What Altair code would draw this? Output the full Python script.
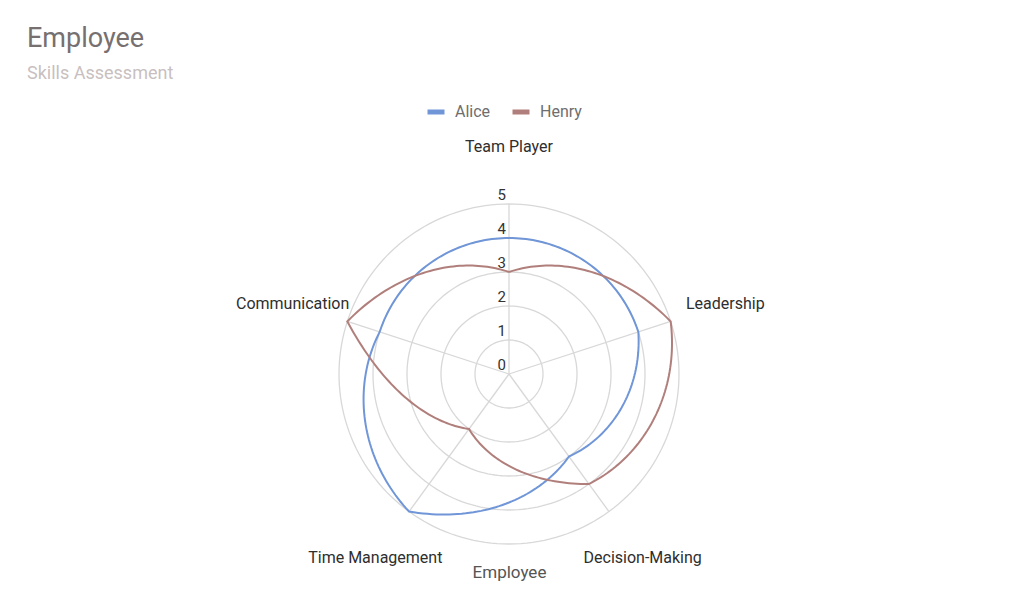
import altair as alt
import pandas as pd

# ---- data ----
skills = ["Team Player", "Leadership", "Decision-Making", "Time Management", "Communication"]
series_names = ["Alice", "Henry"]
alice = [4, 4, 3, 5, 4]
henry = [3, 5, 4, 2, 5]
levels = [0, 1, 2, 3, 4, 5]
colors = ["#7096d8", "#b07f7b"]

rows = []
for name, vals in zip(series_names, [alice, henry]):
    for i, (s, v) in enumerate(zip(skills, vals)):
        rows.append({"series": name, "skill": s, "idx": i, "value": v})
df = pd.DataFrame(rows)
skill_df = pd.DataFrame({"skill": skills, "idx": list(range(len(skills)))})
level_df = pd.DataFrame({"level": levels})

N = len(skills)
MAX = max(levels)
LABEL_R = 6.69
FONT = "Roboto"
P = -0.75  # power-mean exponent for the radial path between skills

xs = alt.Scale(domain=[-14, 14], nice=False, zero=False)
ys = alt.Scale(domain=[-5.5, 7.5], nice=False, zero=False)
x_axis = alt.Axis(title="Employee", labels=False, ticks=False, domain=False, grid=False,
                  titleFont=FONT, titleFontSize=17, titleFontWeight="normal",
                  titleColor="#555555", titlePadding=3)


def X(field="px"):
    return alt.X(f"{field}:Q", scale=xs, axis=x_axis)


def Y(field="py"):
    return alt.Y(f"{field}:Q", scale=ys, axis=None)


grid = (
    alt.Chart(level_df)
    .transform_filter("datum.level > 0")
    .transform_calculate(ts="sequence(0, 361, 2)")
    .transform_flatten(["ts"], as_=["deg"])
    .transform_calculate(px="datum.level*sin(datum.deg*PI/180)")
    .transform_calculate(py="datum.level*cos(datum.deg*PI/180)")
    .mark_line(color="#d8d8d8", strokeWidth=1.3)
    .encode(x=X(), y=Y(), detail="level:N", order="deg:Q")
)

spokes = (
    alt.Chart(skill_df)
    .transform_calculate(th=f"datum.idx*2*PI/{N}")
    .transform_calculate(px="0", py="0")
    .transform_calculate(px2=f"{MAX}*sin(datum.th)", py2=f"{MAX}*cos(datum.th)")
    .mark_rule(color="#d8d8d8", strokeWidth=1.3)
    .encode(x=X(), y=Y(), x2="px2:Q", y2="py2:Q")
)

tick_labels = (
    alt.Chart(level_df)
    .transform_calculate(px="0")
    .mark_text(align="right", baseline="middle", dx=-3, dy=-9, font=FONT, fontSize=15, color="#333333")
    .encode(x=X(), y=Y("level"), text="level:Q")
)

axis_labels = (
    alt.Chart(skill_df)
    .transform_calculate(th=f"datum.idx*2*PI/{N}")
    .transform_calculate(px=f"{LABEL_R}*sin(datum.th)", py=f"{LABEL_R}*cos(datum.th)")
    .mark_text(align="center", baseline="middle", font=FONT, fontSize=16, color="#2e2e2e")
    .encode(x=X(), y=Y(), text="skill:N")
)

lines = (
    alt.Chart(df)
    .transform_window(first="first_value(value)", nxt="lead(value)",
                      groupby=["series"], sort=[alt.SortField("idx")], frame=[None, None])
    .transform_calculate(nv="isValid(datum.nxt) ? datum.nxt : datum.first")
    .transform_calculate(ts="sequence(0, 1.0001, 0.02)")
    .transform_flatten(["ts"], as_=["t"])
    .transform_calculate(th=f"(datum.idx + datum.t)*2*PI/{N}")
    .transform_calculate(
        r=f"pow((1 - datum.t)*pow(max(datum.value, 0.01), {P}) + datum.t*pow(max(datum.nv, 0.01), {P}), {1 / P})")
    .transform_calculate(px="datum.r*sin(datum.th)", py="datum.r*cos(datum.th)",
                         ord="datum.idx + datum.t")
    .mark_line(strokeWidth=2)
    .encode(
        x=X(), y=Y(),
        color=alt.Color("series:N", scale=alt.Scale(domain=series_names, range=colors),
                        legend=alt.Legend(title=None, orient="none", direction="horizontal",
                                          legendX=392, legendY=-18, symbolType="stroke",
                                          symbolSize=289, symbolStrokeWidth=5,
                                          labelFont=FONT, labelFontSize=16, labelColor="#6e6e6e",
                                          labelOffset=8, columnPadding=11, padding=0)),
        order="ord:Q",
    )
)

chart = (
    alt.layer(grid, spokes, lines, tick_labels, axis_labels)
    .properties(
        width=952, height=442,
        autosize=alt.AutoSizeParams(type="none"),
        padding={"left": 25, "top": 111, "right": 0, "bottom": 30},
        title=alt.TitleParams(text="Employee", subtitle="Skills Assessment", anchor="start",
                              frame="group", font=FONT, subtitleFont=FONT, fontSize=27,
                              subtitleFontSize=18, fontWeight="normal", color="#777070",
                              subtitleColor="#c9bfbf", offset=17, subtitlePadding=12, dx=-6),
    )
    .configure_view(stroke=None)
)

chart.save("out.html", embed_options={"renderer": "svg", "actions": False})
